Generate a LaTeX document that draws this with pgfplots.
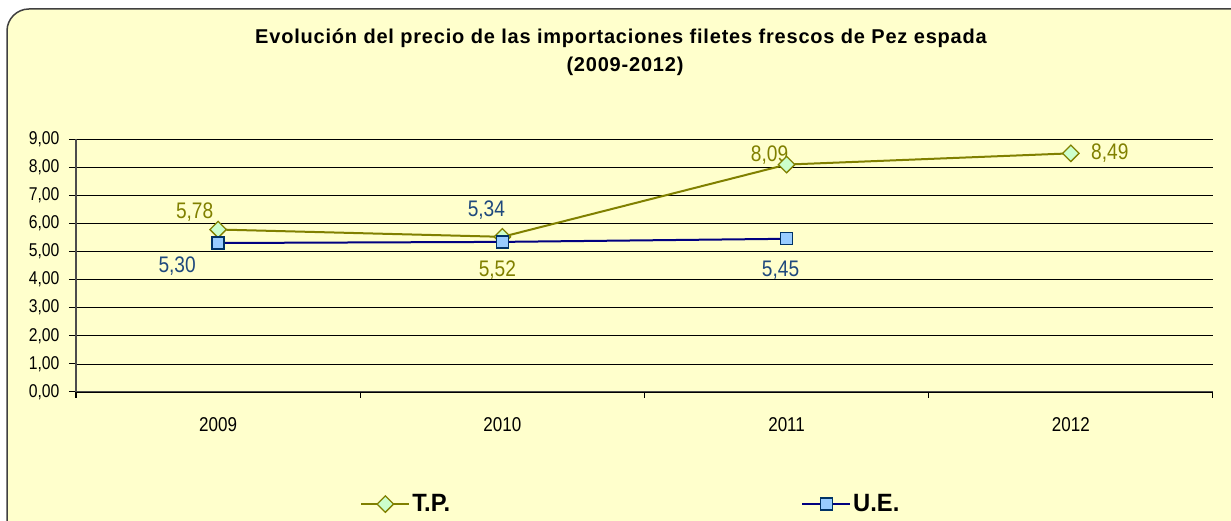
\documentclass[border=0pt]{standalone}
\usepackage{fontspec}
\setmainfont{Liberation Sans}
\newfontfamily\narrow[FakeStretch=0.85]{Liberation Sans}
\newfontfamily\legfont[FakeStretch=0.95]{Liberation Sans}
\newfontfamily\titlefont[LetterSpace=4]{Liberation Sans}
\usepackage{pgfplots}
\pgfplotsset{compat=1.18}
\definecolor{bgyellow}{HTML}{FFFFCC}
\definecolor{tpline}{HTML}{808000}
\definecolor{tpfill}{HTML}{CCFFCC}
\definecolor{ueline}{HTML}{000080}
\definecolor{uefill}{HTML}{99CCFF}
\definecolor{ueedge}{HTML}{003366}
\definecolor{uetext}{HTML}{1F497D}
\begin{document}
\begin{tikzpicture}[x=1pt,y=1pt]
\useasboundingbox (0,0) rectangle (1231,521);
\begin{scope}
  \clip (0,0) rectangle (1231,521);
  \draw[line width=1.5pt, draw=black!75, fill=bgyellow, rounded corners=22pt] (7,-40) rectangle (1270,512);
\end{scope}
\node[font=\titlefont\fontsize{20}{24}\selectfont\bfseries] at (621,483) {Evolución del precio de las importaciones filetes frescos de Pez espada};
\node[font=\titlefont\fontsize{20}{24}\selectfont\bfseries] at (625,455) {(2009-2012)};
\begin{axis}[
    at={(76pt,129pt)}, anchor=south west,
    scale only axis, width=1137pt, height=253pt,
    xmin=-0.5, xmax=3.5, ymin=0, ymax=9,
    axis x line*=bottom, axis y line*=left,
    axis line style={black!70, line width=1pt},
    ymajorgrids, grid style={black, line width=0.7pt},
    ytick={0,1,...,9},
    xtick={0,1,2,3}, xticklabels={2009,2010,2011,2012},
    minor xtick={-0.5,0.5,1.5,2.5,3.5},
    major x tick style={draw=none},
    tick style={black, line width=1pt},
    tick align=outside, major tick length=7pt, minor tick length=6pt,
    /pgf/number format/assume math mode=true,
    y tick label style={/pgf/number format/fixed, /pgf/number format/fixed zerofill,
      /pgf/number format/precision=2, /pgf/number format/use comma,
      font=\narrow\fontsize{18.5}{20}\selectfont, xshift=-6pt},
    x tick label style={font=\narrow\fontsize{20}{22}\selectfont, yshift=-15pt},
    legend style={at={(0.488,-0.443)}, anchor=center, draw=none, fill=none,
      legend columns=2, font=\legfont\bfseries\fontsize{25}{28}\selectfont,
      /tikz/every even column/.append style={column sep=349pt}},
    legend image code/.code={\draw[mark repeat=2,mark phase=2,#1] plot coordinates {(0pt,0pt) (24pt,0pt) (48pt,0pt)};},
  ]
  \addplot[tpline, line width=2pt, mark=square*, mark size=5.8pt,
    mark options={rotate=45, fill=tpfill, draw=tpline, line width=1.3pt, solid}]
    coordinates {(0,5.78) (1,5.52) (2,8.09) (3,8.49)};
  \addlegendentry{T.P.}
  \addplot[ueline, line width=2pt, mark=square*, mark size=6pt,
    mark options={fill=uefill, draw=ueedge, line width=1.3pt, solid}]
    coordinates {(0,5.30) (1,5.34) (2,5.45)};
  \addlegendentry{U.E.}
  \begin{scope}[every node/.style={font=\narrow\fontsize{22.5}{24}\selectfont}]
    \node[text=tpline, xshift=-23.5pt, yshift=17pt] at (axis cs:0,5.78) {5,78};
    \node[text=tpline, xshift=-5pt, yshift=-33pt] at (axis cs:1,5.52) {5,52};
    \node[text=tpline, xshift=-17pt, yshift=10pt] at (axis cs:2,8.09) {8,09};
    \node[text=tpline, xshift=39pt, yshift=0pt] at (axis cs:3,8.49) {8,49};
    \node[text=uetext, xshift=-41pt, yshift=-23pt] at (axis cs:0,5.30) {5,30};
    \node[text=uetext, xshift=-16pt, yshift=32pt] at (axis cs:1,5.34) {5,34};
    \node[text=uetext, xshift=-6pt, yshift=-31pt] at (axis cs:2,5.45) {5,45};
  \end{scope}
\end{axis}
\end{tikzpicture}
\end{document}
